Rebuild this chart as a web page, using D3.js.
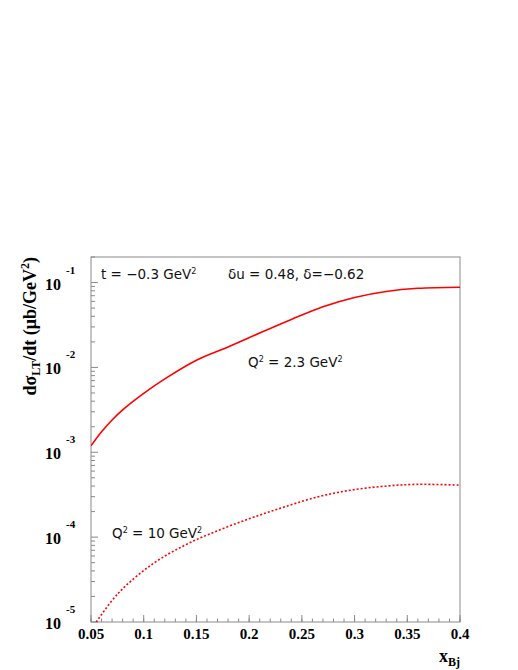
<!DOCTYPE html>
<html>
<head>
<meta charset="utf-8">
<script src="https://cdn.jsdelivr.net/npm/d3@7"></script>
<style>
  body { margin: 0; background: #fff; }
  .tick-label { font-family: "Liberation Serif", "Times New Roman", serif; font-weight: bold; }
  .note { font-family: "DejaVu Sans", sans-serif; font-size: 13.5px; fill: #111; }
</style>
</head>
<body>
<div id="chart"></div>
<script>
// x values and d(sigma_LT)/dt values
var xSolid = [0.05, 0.06, 0.07, 0.08, 0.10, 0.12, 0.15, 0.18, 0.21, 0.24, 0.27, 0.30, 0.33, 0.36, 0.40];
var ySolid = [1.19e-3, 1.74e-3, 2.40e-3, 3.16e-3, 4.95e-3, 7.33e-3, 1.216e-2, 1.74e-2, 2.54e-2, 3.67e-2, 5.19e-2, 6.68e-2, 7.85e-2, 8.55e-2, 8.81e-2];

var xDotted = [0.055, 0.0758, 0.107, 0.139, 0.17, 0.202, 0.233, 0.265, 0.296, 0.328, 0.359, 0.4];
var yDotted = [1.0e-5, 2.18e-5, 4.69e-5, 8.04e-5, 1.19e-4, 1.68e-4, 2.26e-4, 2.98e-4, 3.57e-4, 3.98e-4, 4.19e-4, 4.1e-4];

var xTicks = [0.05, 0.1, 0.15, 0.2, 0.25, 0.3, 0.35, 0.4];
var xTickLabels = ["0.05", "0.1", "0.15", "0.2", "0.25", "0.3", "0.35", "0.4"];
var yExponents = [-5, -4, -3, -2, -1];

var svgWidth = 518, svgHeight = 670;
var margin = {top: 257, right: 58, bottom: 48, left: 91};
var width = svgWidth - margin.left - margin.right;
var height = svgHeight - margin.top - margin.bottom;

var svg = d3.select("#chart").append("svg")
    .attr("width", svgWidth)
    .attr("height", svgHeight);

var g = svg.append("g")
    .attr("transform", `translate(${margin.left}, ${margin.top})`);

var xScale = d3.scaleLinear().domain([0.05, 0.4]).range([0, width]);
var yScale = d3.scaleLog().domain([1e-5, 0.2]).range([height, 0]);

g.append("clipPath").attr("id", "clip")
  .append("rect").attr("width", width).attr("height", height);

// frame
g.append("rect")
    .attr("width", width).attr("height", height)
    .attr("fill", "none").attr("stroke", "#8a8a8a").attr("stroke-width", 1);

// x ticks (inside, pointing up)
var xMinor = d3.range(0.05, 0.4001, 0.01);
g.selectAll(".xminor").data(xMinor).enter().append("line")
    .attr("x1", d => xScale(d)).attr("x2", d => xScale(d))
    .attr("y1", height).attr("y2", height - 3.5)
    .attr("stroke", "#8a8a8a");
g.selectAll(".xmajor").data(xTicks).enter().append("line")
    .attr("x1", d => xScale(d)).attr("x2", d => xScale(d))
    .attr("y1", height).attr("y2", height - 7)
    .attr("stroke", "#8a8a8a");
g.selectAll(".xlab").data(xTicks).enter().append("text")
    .attr("class", "tick-label")
    .attr("x", d => xScale(d)).attr("y", height + 17)
    .attr("text-anchor", "middle").attr("font-size", 15)
    .text((d, i) => xTickLabels[i]);

// y ticks (log)
var yMinor = [];
yExponents.forEach(e => { for (var k = 2; k <= 9; k++) { var v = k * Math.pow(10, e); if (v <= 0.2) yMinor.push(v); } });
g.selectAll(".yminor").data(yMinor).enter().append("line")
    .attr("x1", 0).attr("x2", 4)
    .attr("y1", d => yScale(d)).attr("y2", d => yScale(d))
    .attr("stroke", "#8a8a8a");
g.selectAll(".ymajor").data(yExponents).enter().append("line")
    .attr("x1", 0).attr("x2", 7)
    .attr("y1", d => yScale(Math.pow(10, d))).attr("y2", d => yScale(Math.pow(10, d)))
    .attr("stroke", "#8a8a8a");
var ylab = g.selectAll(".ylab").data(yExponents).enter().append("g")
    .attr("transform", d => `translate(0, ${yScale(Math.pow(10, d))})`);
ylab.append("text").attr("class", "tick-label")
    .attr("x", -30).attr("y", 7)
    .attr("text-anchor", "end").attr("font-size", 16)
    .text("10");
ylab.append("text").attr("class", "tick-label")
    .attr("x", -25).attr("y", -9)
    .attr("text-anchor", "start").attr("font-size", 11)
    .text(d => d);

// curves
var line = d3.line()
    .x(d => xScale(d[0]))
    .y(d => yScale(d[1]))
    .curve(d3.curveCatmullRom.alpha(0.5));

g.append("path")
    .datum(xSolid.map((x, i) => [x, ySolid[i]]))
    .attr("clip-path", "url(#clip)")
    .attr("fill", "none").attr("stroke", "#ff0000").attr("stroke-width", 1.6)
    .attr("d", line);

g.append("path")
    .datum(xDotted.map((x, i) => [x, yDotted[i]]))
    .attr("clip-path", "url(#clip)")
    .attr("fill", "none").attr("stroke", "#ff0000").attr("stroke-width", 1.6)
    .attr("stroke-dasharray", "2,2")
    .attr("d", line);

// annotations
var t1 = g.append("text").attr("class", "note").attr("x", 10).attr("y", 22);
t1.append("tspan").text("t = \u22120.3 GeV");
t1.append("tspan").attr("font-size", 8).attr("dy", -5).text("2");
g.append("text").attr("class", "note").attr("x", 137).attr("y", 22)
    .text("\u03b4u = 0.48, \u03b4=\u22120.62");

var t2 = g.append("text").attr("class", "note").attr("x", 157).attr("y", 110);
t2.append("tspan").text("Q");
t2.append("tspan").attr("font-size", 8).attr("dy", -5).text("2");
t2.append("tspan").attr("dy", 5).text(" = 2.3 GeV");
t2.append("tspan").attr("font-size", 8).attr("dy", -5).text("2");

var t3 = g.append("text").attr("class", "note").attr("x", 21).attr("y", 281);
t3.append("tspan").text("Q");
t3.append("tspan").attr("font-size", 8).attr("dy", -5).text("2");
t3.append("tspan").attr("dy", 5).text(" = 10 GeV");
t3.append("tspan").attr("font-size", 8).attr("dy", -5).text("2");

// axis titles
var xt = svg.append("text").attr("class", "tick-label")
    .attr("x", 460).attr("y", 662).attr("text-anchor", "end").attr("font-size", 18);
xt.append("tspan").text("x");
xt.append("tspan").attr("font-size", 12).attr("dy", 4).text("Bj");

var yt = svg.append("text").attr("class", "tick-label")
    .attr("transform", "translate(36, 257) rotate(-90)")
    .attr("text-anchor", "end").attr("font-size", 18);
yt.append("tspan").text("d\u03c3");
yt.append("tspan").attr("font-size", 12).attr("dy", 4).text("LT");
yt.append("tspan").attr("dy", -4).text("/dt (\u03bcb/GeV");
yt.append("tspan").attr("font-size", 12).attr("dy", -7).text("2");
yt.append("tspan").attr("dy", 7).text(")");
</script>
</body>
</html>
